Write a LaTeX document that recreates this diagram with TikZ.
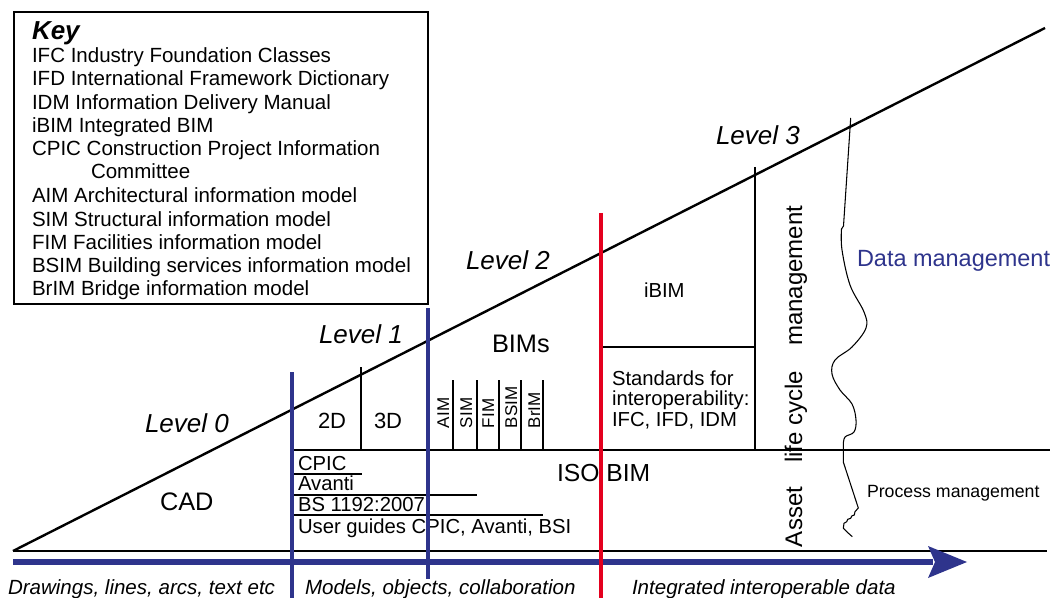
\documentclass[tikz,border=0pt]{standalone}
\usepackage{fontspec}
\setmainfont{Liberation Sans}
\definecolor{navy}{RGB}{46,52,140}
\definecolor{redline}{RGB}{228,0,30}
\tikzset{
  lbl/.style={inner sep=0pt, outer sep=0pt, anchor=base west},
  keytxt/.style={lbl, font=\fontsize{15.4}{17}\selectfont},
  midtxt/.style={lbl, font=\fontsize{15.2}{17}\selectfont},
  bigtxt/.style={lbl, font=\fontsize{19}{21}\selectfont},
  leveltxt/.style={lbl, font=\fontsize{19.5}{21}\selectfont\itshape},
  bottomtxt/.style={lbl, font=\fontsize{15.4}{17}\selectfont\itshape},
  rottxt/.style={lbl, rotate=90, font=\fontsize{12.75}{14}\selectfont},
  thin/.style={line width=0.8pt},
  bar/.style={line width=3pt},
}
\begin{document}
\begin{tikzpicture}[x=0.75pt,y=-0.75pt]
\useasboundingbox (0,0) rectangle (1055,598);

% ---------- Key ----------
\draw[line width=1.5pt] (14,12) rectangle (428,304);
\node[lbl, font=\fontsize{19.5}{21}\selectfont\bfseries\itshape] (keytitle) at (32,40) {Key};
\foreach \t/\yy [count=\i] in {IFC Industry Foundation Classes/63,
  IFD International Framework Dictionary/86,
  IDM Information Delivery Manual/110,
  iBIM Integrated BIM/133,
  CPIC Construction Project Information/156,
  AIM Architectural information model/203,
  SIM Structural information model/227,
  FIM Facilities information model/250,
  BSIM Building services information model/273,
  BrIM Bridge information model/296}
  \node[keytxt] (key\i) at (32,\yy) {\t};
\node[keytxt] (keycommittee) at (91,179) {Committee};

% ---------- main frame ----------
\draw[line width=1.8pt] (13,551) -- (1045,28);
\draw[line width=2pt] (13,551) -- (1047,551);
\draw[navy, line width=4.8pt] (13,562) -- (933,562);
\fill[navy] (928,546) -- (967,562) -- (928,578) -- (935,562) -- cycle;

\draw[thin] (292,450) -- (1050,450);
\draw[line width=1pt] (361,367) -- (361,450);
\foreach \x in {453,477,499,521,543}
  \draw[line width=1.5pt] (\x,380) -- (\x,450);
\draw[thin] (755,167) -- (755,450);
\draw[thin] (603,347) -- (755,347);

% underlines of standards list
\draw[line width=1pt] (293,474) -- (362,474);
\draw[line width=1pt] (293,495) -- (477,495);
\draw[line width=1pt] (293,515) -- (543,515);

% ---------- labels ----------
\node[leveltxt] (lev0) at (145,432) {Level 0};
\node[leveltxt] (lev1) at (319,343) {Level 1};
\node[leveltxt] (lev2) at (466,270) {Level 2};
\node[leveltxt] (lev3) at (716,145) {Level 3};

\node[lbl, font=\fontsize{16.5}{18}\selectfont] (twod) at (318,428) {2D};
\node[lbl, font=\fontsize{16.5}{18}\selectfont] (threed) at (374,428) {3D};

\node[rottxt] (aim)  at (449,428) {AIM};
\node[rottxt] (sim)  at (472,428) {SIM};
\node[rottxt] (fim)  at (494,428) {FIM};
\node[rottxt] (bsim) at (517,428) {BSIM};
\node[rottxt] (brim) at (540,428) {BrIM};

\node[midtxt] (cpic) at (298,470) {CPIC};
\node[midtxt] (avanti) at (298,490) {Avanti};
\node[midtxt] (bs) at (298,511) {BS 1192:2007};
\node[midtxt] (guides) at (298,533) {User guides CPIC, Avanti, BSI};

\node[bigtxt] (cad) at (160,510) {CAD};
\node[bigtxt] (bims) at (492,352) {BIMs};
\node[lbl, font=\fontsize{18.5}{20}\selectfont] (isobim) at (557,481) {ISO BIM};
\node[midtxt] (ibim) at (644,297) {iBIM};
\node[midtxt] (std1) at (612,385) {Standards for};
\node[midtxt] (std2) at (612,405) {interoperability:};
\node[midtxt] (std3) at (612,426) {IFC, IFD, IDM};

\node[lbl, rotate=90, font=\fontsize{18}{20}\selectfont] (alcm) at (802,547)
  {Asset\hspace*{18pt}life cycle\hspace*{18.75pt}management};

\node[lbl, text=navy, font=\fontsize{17.6}{20}\selectfont] (datam) at (857,267) {Data management};
\node[lbl, font=\fontsize{13.3}{15}\selectfont] (procm) at (867,497) {Process management};

\node[bottomtxt] (b1) at (8,594) {Drawings, lines, arcs, text etc};
\node[bottomtxt] (b2) at (305,594) {Models, objects, collaboration};
\node[bottomtxt] (b3) at (632,594) {Integrated interoperable data};

% ---------- wavy management line ----------
\draw[thin, line join=round] (850.7,118) -- (843.5,226) -- (841.5,229)
  -- plot[smooth, tension=0.6] coordinates {(841.5,229) (842,250) (850,285) (864,312) (866,328)
     (852,347) (835,360) (832,374) (840,390) (852,404) (856,420) (854,432) (845,437) (843.3,445)}
  -- (843.3,462) -- (858.3,508) -- (855,511.7) -- (854.3,515) -- (851.7,516) -- (850.7,518.3)
  -- (847.7,519.3) -- (846.7,521.7) -- (844,523.3) -- (843.3,528.3) -- (846.7,531.7) -- (852.3,536.7);

% ---------- phase dividers ----------
\draw[navy, bar] (292,372) -- (292,598);
\draw[navy, bar] (428,308) -- (428,579);
\draw[redline, bar] (601,213) -- (601,598);
\end{tikzpicture}
\end{document}
